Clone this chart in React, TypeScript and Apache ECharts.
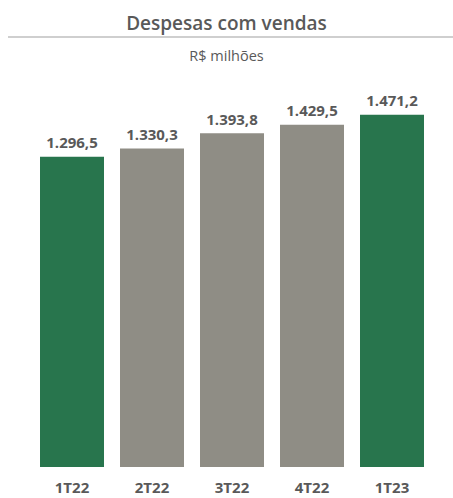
import React, { useEffect, useRef } from "react";
import * as echarts from "echarts";

const categories = ["1T22", "2T22", "3T22", "4T22", "1T23"];
const values = [1296.5, 1330.3, 1393.8, 1429.5, 1471.2];
const highlight = [true, false, false, false, true];
const valueLabels = ["1.296,5", "1.330,3", "1.393,8", "1.429,5", "1.471,2"];

const GREEN = "#28754D";
const GRAY = "#8F8D85";
const TEXT = "#595959";
const FONT = "'Open Sans', 'Noto Sans', sans-serif";

export default function App() {
  const ref = useRef<HTMLDivElement>(null);
  useEffect(() => {
    if (!ref.current) return;
    const chart = echarts.init(ref.current, undefined, { renderer: "svg" });
    chart.setOption({
      animation: false,
      backgroundColor: "#ffffff",
      title: [
        {
          text: "Despesas com vendas",
          left: "center",
          top: 8,
          textStyle: { fontFamily: FONT, fontSize: 19, fontWeight: 600, color: TEXT },
        },
        {
          text: "R$ milhões",
          left: "center",
          top: 43,
          textStyle: { fontFamily: FONT, fontSize: 14.5, fontWeight: "normal", color: TEXT },
        },
      ],
      graphic: [
        {
          type: "line",
          shape: { x1: 8, y1: 37, x2: 453, y2: 37 },
          style: { stroke: "#BFBFBF", lineWidth: 1.5 },
        },
      ],
      grid: { left: 32, right: 21, top: 84, bottom: 31, containLabel: false },
      xAxis: {
        type: "category",
        data: categories,
        axisLine: { show: false },
        axisTick: { show: false },
        axisLabel: {
          margin: 12,
          fontFamily: FONT,
          fontSize: 15,
          fontWeight: "bold",
          color: TEXT,
        },
      },
      yAxis: {
        type: "value",
        min: 0,
        max: 1600,
        show: false,
        splitLine: { show: false },
      },
      series: [
        {
          type: "bar",
          barWidth: 64,
          data: values.map((v, i) => ({
            value: v,
            itemStyle: { color: highlight[i] ? GREEN : GRAY },
          })),
          label: {
            show: true,
            position: "top",
            distance: 7,
            fontFamily: FONT,
            fontSize: 15,
            fontWeight: "bold",
            color: TEXT,
            formatter: (p: any) => valueLabels[p.dataIndex],
          },
        },
      ],
    });
    return () => chart.dispose();
  }, []);
  return (
    <div
      ref={ref}
      style={{ position: "absolute", left: 0, top: 0, width: 453, height: 498 }}
    />
  );
}
